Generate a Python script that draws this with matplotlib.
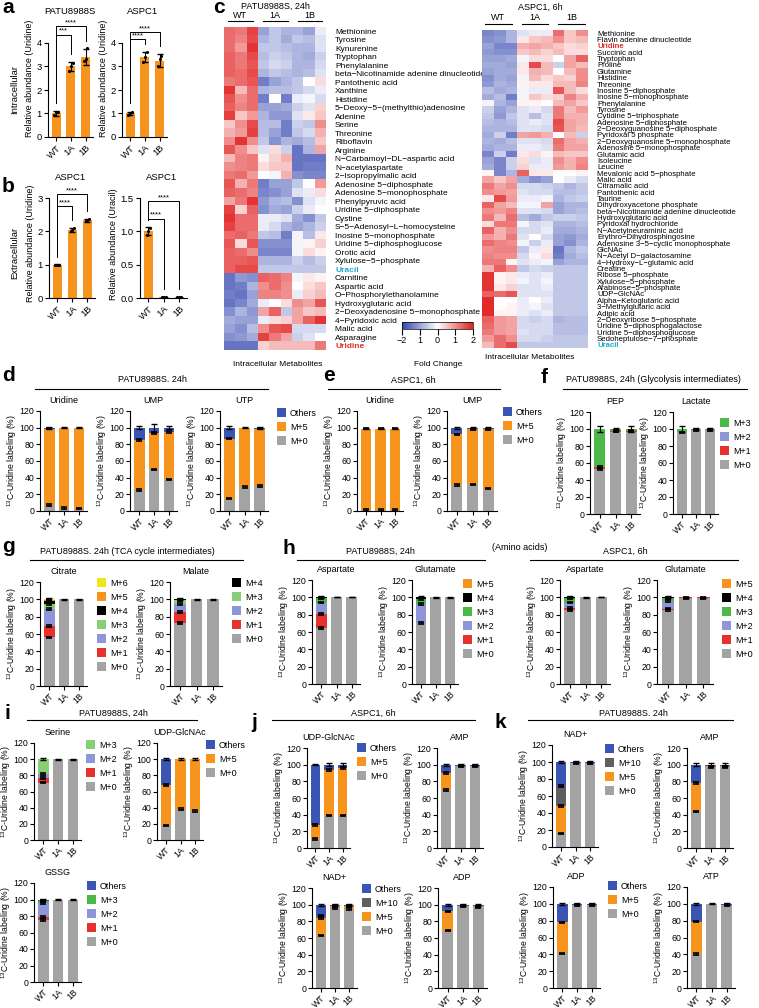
import numpy as np
import matplotlib.pyplot as plt
from matplotlib.colors import LinearSegmentedColormap
from matplotlib.patches import Patch
from matplotlib.lines import Line2D

plt.rcParams['font.family'] = ['Liberation Sans', 'DejaVu Sans']
plt.rcParams['mathtext.fontset'] = 'custom'
plt.rcParams['mathtext.rm'] = 'Liberation Sans'
plt.rcParams['font.size'] = 7
plt.rcParams['axes.linewidth'] = 0.8

GROUPS = ['WT', '1A', '1B']

# ---- a / b : relative abundance ----
a_patu_mean = [1.0, 3.0, 3.4]
a_patu_sd = [0.1, 0.2, 0.35]
a_patu_pts = [[0.92, 1.05, 1.08], [2.8, 3.0, 3.15], [3.25, 3.3, 3.8]]
a_aspc_mean = [1.0, 3.4, 3.25]
a_aspc_sd = [0.08, 0.22, 0.28]
a_aspc_pts = [[0.95, 1.0, 1.05], [3.2, 3.4, 3.6], [3.0, 3.3, 3.45]]
b_uri_mean = [1.0, 2.05, 2.33]
b_uri_sd = [0.01, 0.06, 0.05]
b_uri_pts = [[1.0, 1.0, 1.0], [2.0, 2.05, 2.1], [2.3, 2.33, 2.36]]
b_ura_mean = [1.0, 0.01, 0.01]
b_ura_sd = [0.06, 0.005, 0.005]
b_ura_pts = [[0.95, 1.0, 1.05], [0.01, 0.01, 0.01], [0.01, 0.01, 0.01]]

# ---- c : heatmaps (fold change, WT x3, 1A x3, 1B x3) ----
left_rows = ['Methionine', 'Tyrosine', 'Kynurenine', 'Tryptophan', 'Phenylalanine',
             'beta\u2212Nicotinamide adenine dinucleotide', 'Pantothenic acid', 'Xanthine',
             'Histidine', '5\u2212Deoxy\u22125\u2212(methylthio)adenosine', 'Adenine', 'Serine',
             'Threonine', 'Riboflavin', 'Arginine', 'N\u2212Carbamoyl\u2212DL\u2212aspartic acid',
             'N\u2212acetylaspartate', '2\u2212Isopropylmalic acid', 'Adenosine 5\u2212diphosphate',
             'Adenosine 5\u2212monophosphate', 'Phenylpyruvic acid', 'Uridine 5\u2212diphosphate',
             'Cystine', 'S\u22125\u2212Adenosyl\u2212L\u2212homocysteine', 'Inosine 5\u2212monophosphate',
             'Uridine 5\u2212diphosphoglucose', 'Orotic acid', 'Xylulose\u22125\u2212phosphate', 'Uracil',
             'Carnitine', 'Aspartic acid', 'O\u2212Phosphorylethanolamine', 'Hydroxyglutaric acid',
             '2\u2212Deoxyadenosine 5\u2212monophosphate', '4\u2212Pyridoxic acid', 'Malic acid',
             'Asparagine', 'Uridine']
left_vals = [
    [1.3, 1.2, 1.7, -1.0, -0.6, -0.8, -0.8, -1.0, -0.2],
    [1.3, 1.1, 1.6, -0.8, -0.6, -0.9, -0.6, -0.7, -0.3],
    [1.3, 0.9, 1.8, -0.6, -0.6, -0.7, -0.8, -0.8, -0.3],
    [1.4, 1.2, 1.6, -0.7, -0.5, -0.6, -0.8, -0.9, -0.5],
    [1.4, 1.2, 1.5, -0.6, -0.4, -0.5, -0.8, -0.8, -0.4],
    [1.4, 1.3, 1.6, -0.8, -0.6, -0.7, -0.8, -0.7, -0.3],
    [1.2, 1.3, 1.5, -1.4, -1.0, -0.8, -0.6, 0.0, 0.3],
    [1.8, 0.6, 1.3, -0.8, -0.7, -0.7, -0.6, -0.4, -0.2],
    [1.5, 1.0, 1.3, -1.4, 0.0, -1.4, -0.2, -0.1, -0.4],
    [1.4, 1.1, 1.3, -1.0, -1.0, -0.9, -0.5, -0.3, 0.4],
    [1.7, 0.5, 0.9, -0.8, -1.1, -1.1, -0.3, 0.2, 0.5],
    [0.5, 1.0, 1.6, -0.7, -0.7, -1.4, -0.5, -0.6, 1.0],
    [0.7, 0.9, 1.7, -0.7, -1.0, -1.4, -0.6, -0.4, 0.7],
    [1.0, 1.8, 1.0, -0.6, -1.2, -0.8, -0.9, -0.7, 0.5],
    [1.5, 1.0, 0.5, -0.3, 0.3, -0.5, -1.5, -0.8, 0.8],
    [0.6, 1.1, 1.2, 0.1, 0.4, 0.7, -1.5, -1.5, -1.5],
    [1.0, 1.1, 1.2, 0.3, 0.5, 0.5, -1.5, -1.4, -1.4],
    [1.2, 1.3, 0.9, 0.0, -0.1, 0.7, -1.2, -1.3, -1.3],
    [1.5, 0.7, 1.2, -1.4, -1.0, -1.0, -0.6, 0.0, 0.9],
    [1.4, 1.3, 1.1, -1.3, -1.2, -1.0, -0.3, -0.2, 0.3],
    [0.8, 1.2, 1.8, -1.1, -0.8, -0.7, -1.2, -0.3, -0.1],
    [1.7, 0.4, 1.4, -1.2, -0.9, -1.0, -0.5, -0.2, 0.0],
    [1.8, 1.3, 1.3, -0.2, -0.2, -0.3, -0.9, -1.2, -0.6],
    [1.7, 1.3, 1.3, -0.2, -0.4, -0.8, -1.0, -0.8, -0.5],
    [1.3, 1.4, 1.2, -0.6, -0.7, -1.4, -0.1, -0.7, 0.2],
    [1.5, 0.3, 1.5, -1.2, -1.2, -1.2, -0.1, 0.1, 0.4],
    [1.4, 1.3, 1.0, -1.3, -1.3, -1.3, -0.1, 0.3, 0.1],
    [1.4, 1.4, 1.5, -0.8, -0.8, -0.8, -0.5, -0.7, -0.5],
    [1.4, 1.6, 1.6, -0.6, -0.6, -0.6, -0.6, -0.6, -0.6],
    [-1.5, -1.1, -1.2, 1.4, 1.3, 1.1, -0.1, 0.2, 0.1],
    [-1.5, -1.4, -0.8, 1.0, 1.3, 1.0, 0.0, 0.3, 0.5],
    [-1.4, -1.5, -1.0, 1.1, 1.1, 1.0, -0.2, 0.4, 0.6],
    [-1.5, -1.3, -0.9, -0.2, 0.0, 0.3, 1.0, 0.8, 1.5],
    [-1.2, -0.8, -1.1, 0.8, 1.4, -0.6, 0.8, 0.5, 0.6],
    [-0.9, -1.0, -1.0, -0.2, 0.3, 0.4, 0.8, 1.4, 1.8],
    [-1.0, -1.2, -0.7, 1.0, 1.5, 1.6, -0.4, -0.4, -0.4],
    [-1.2, -1.1, -0.9, 1.7, 1.2, 0.8, -0.5, -0.3, 0.0],
    [-1.5, -1.5, -1.5, 0.4, 0.6, 0.6, 0.6, 0.6, 1.2],
]
right_rows = ['Methionine', 'Flavin adenine dinucleotide', 'Uridine', 'Succinic acid', 'Tryptophan',
              'Proline', 'Glutamine', 'Histidine', 'Threonine', 'Inosine 5\u2212diphosphate',
              'Inosine 5\u2212monophosphate', 'Phenylalanine', 'Tyrosine', 'Cytidine 5\u2212triphosphate',
              'Adenosine 5\u2212diphosphate', '2\u2212Deoxyguanosine 5\u2212diphosphate',
              'Pyridoxal 5 phosphate', '2\u2212Deoxyguanosine 5\u2212monophosphate',
              'Adenosine 5\u2212monophosphate', 'Glutamic acid', 'Isoleucine', 'Leucine',
              'Mevalonic acid 5\u2212phosphate', 'Malic acid', 'Citramalic acid', 'Pantothenic acid',
              'Taurine', 'Dihydroxyacetone phosphate', 'beta\u2212Nicotinamide adenine dinucleotide',
              'Hydroxyglutaric acid', 'Pyridoxal hydrochloride', 'N\u2212Acetylneuraminic acid',
              'Erythro\u2212Dihydrosphingosine', 'Adenosine 3\u22125\u2212cyclic monophosphate', 'GlcNAc',
              'N\u2212Acetyl D\u2212galactosamine', '4\u2212Hydroxy\u2212L\u2212glutamic acid', 'Creatine',
              'Ribose 5\u2212phosphate', 'Xylulose\u22125\u2212phosphate', 'Arabinose\u22125\u2212phosphate',
              'UDP\u2212GlcNAc', 'Alpha\u2212Ketoglutaric acid', '3\u2212Methylglutaric acid', 'Adipic acid',
              '2\u2212Deoxyribose 5\u2212phosphate', 'Uridine 5\u2212diphosphogalactose',
              'Uridine 5\u2212diphosphoglucose', 'Sedoheptulose\u22127\u2212phosphate', 'Uracil']
right_vals = [
    [-1.3, -1.2, -0.8, -0.3, -0.2, -0.2, 1.3, 0.5, 1.0],
    [-1.2, -1.1, -0.8, 0.2, 0.5, 0.6, 1.0, 0.5, 0.6],
    [-1.0, -1.3, -1.3, 0.7, 0.8, 0.7, 0.5, 0.3, 0.4],
    [-1.1, -1.2, -1.2, 0.5, 0.6, 0.4, 0.6, 0.3, 0.3],
    [-1.0, -1.0, -0.9, -0.1, 0.3, 0.3, 0.0, 0.8, 1.4],
    [-0.9, -0.9, -1.0, 0.2, 1.6, 0.6, -0.5, 0.8, 0.6],
    [-1.0, -0.9, -0.9, 0.2, 0.7, 0.6, 0.0, 0.6, 1.0],
    [-1.2, -0.9, -1.0, -0.1, 0.6, 0.3, 0.5, 0.4, 1.0],
    [-1.1, -0.8, -0.9, 0.1, 0.2, 0.2, 0.6, 0.6, 1.1],
    [-0.7, -0.9, -0.8, -0.1, -0.2, -0.2, 1.5, 0.6, 0.3],
    [-0.9, -0.7, -1.4, -0.1, 0.5, 0.3, 0.4, 1.1, 0.7],
    [-0.1, -0.8, -1.0, 0.1, 0.1, 0.0, 0.6, 0.8, 0.5],
    [-0.5, -1.0, -0.8, -0.3, -0.2, -0.4, 1.2, 0.6, 0.9],
    [-0.6, -1.1, -0.6, -0.3, -0.7, -0.3, 1.2, 0.7, 0.7],
    [-0.7, -0.8, -0.7, -0.3, -0.2, -0.3, 1.6, 0.8, 0.7],
    [-0.8, -0.8, -0.8, -0.3, -0.3, -0.4, 1.5, 0.8, 0.6],
    [-0.9, -0.5, -1.4, 0.8, 0.9, 0.7, 0.0, 0.6, -0.5],
    [-0.8, -0.9, -0.7, -0.3, -0.3, -0.4, 1.3, 0.8, 0.7],
    [-0.9, -0.8, -0.8, -0.2, -0.2, -0.3, 1.2, 0.8, 0.8],
    [-1.3, -0.5, -1.4, 0.2, 0.3, 0.1, 0.6, 0.5, 0.5],
    [-1.0, -1.3, -0.5, 0.3, -0.3, -0.2, 1.0, 0.7, 1.0],
    [-0.9, -1.3, -0.5, 0.4, -0.2, -0.2, 0.9, 0.7, 1.1],
    [0.1, -1.3, -0.8, 1.4, 0.2, 0.2, 0.0, 0.0, 0.1],
    [0.8, 0.5, 0.8, -0.9, -1.2, -1.0, 0.0, -0.2, -0.4],
    [1.2, 0.8, 1.0, -0.4, -0.4, -0.5, -0.6, -0.8, -0.6],
    [1.0, 0.9, 0.8, -0.3, -0.4, -0.4, -0.7, -0.7, -0.6],
    [0.2, 1.6, 0.9, -0.2, -0.2, -0.1, -0.8, -0.6, -0.5],
    [1.4, 0.8, 0.6, -0.1, -0.1, 0.8, -1.0, -0.8, -0.8],
    [1.0, 0.9, 1.1, -0.3, -0.3, -0.4, -1.0, -0.8, -0.7],
    [1.2, 0.6, 1.3, -0.7, -0.9, -0.6, -0.5, -0.5, -0.6],
    [0.3, 1.2, 1.2, -0.1, -0.4, -0.3, -0.8, -0.8, -0.7],
    [1.4, 0.7, 1.0, -0.4, -0.4, -0.2, -0.9, -0.9, -0.8],
    [0.9, 0.7, 1.2, -0.3, 0.0, -0.4, -1.0, -1.1, -0.9],
    [1.3, 1.1, 1.0, -0.1, -0.5, -0.2, -1.0, -1.2, -0.8],
    [1.0, 1.1, 1.1, -0.6, -0.2, 0.2, -1.5, -0.8, -0.6],
    [1.1, 1.0, 1.0, -0.4, 0.1, 0.3, -1.4, -0.9, -0.7],
    [1.2, 1.2, 0.1, -0.3, -0.2, -0.1, -1.0, -0.8, -0.8],
    [0.7, 1.4, 1.0, -0.6, -0.4, -0.5, -0.6, -0.6, -0.6],
    [1.8, 0.1, 0.2, -0.2, -0.3, -0.2, -0.6, -0.6, -0.6],
    [1.8, 0.1, 0.2, -0.1, -0.3, -0.1, -0.6, -0.6, -0.6],
    [1.8, 0.2, 0.4, -0.3, -0.3, -0.2, -0.6, -0.6, -0.6],
    [1.4, 1.3, 1.5, -0.3, -0.3, -0.3, -0.6, -0.6, -0.6],
    [1.9, 0.0, 0.0, -0.2, 0.0, -0.2, -0.6, -0.6, -0.6],
    [1.9, 0.0, 0.1, -0.2, -0.1, -0.3, -0.6, -0.6, -0.6],
    [1.9, 0.1, 0.1, -0.2, -0.3, -0.2, -0.6, -0.6, -0.6],
    [1.4, 0.9, 0.8, -0.4, -0.5, -0.4, -0.8, -0.7, -0.7],
    [1.3, 0.9, 0.8, -0.4, -0.4, -0.4, -0.7, -0.7, -0.7],
    [1.2, 0.9, 0.8, -0.3, -0.4, -0.4, -0.7, -0.7, -0.7],
    [0.9, 1.3, 1.0, -0.4, -0.4, -0.5, -0.6, -0.6, -0.6],
    [0.6, 1.3, 1.6, -0.6, -0.6, -0.6, -0.6, -0.6, -0.6],
]

# ---- d-k : 13C-uridine labeling (%) per isotopologue, WT/1A/1B ----
d_uridine = {'M+0': [7, 4, 3], 'M+5': [92, 96, 97], 'Others': [1, 0, 0]}
d_ump = {'M+0': [25, 50, 38], 'M+5': [60, 44, 57], 'Others': [15, 6, 5]}
d_utp = {'M+0': [15, 29, 30], 'M+5': [72, 71, 69], 'Others': [13, 0, 1]}
e_uridine = {'M+0': [1, 1, 1], 'M+5': [98, 98, 98], 'Others': [0, 0, 0]}
e_ump = {'M+0': [31, 32, 27], 'M+5': [61, 66, 71], 'Others': [8, 2, 2]}
f_pep = {'M+0': [53, 97, 97], 'M+1': [2, 1, 1], 'M+2': [0, 0, 0], 'M+3': [45, 2, 2]}
f_lactate = {'M+0': [96, 99, 99], 'M+1': [0.5, 0, 0], 'M+2': [0, 0, 0], 'M+3': [3.5, 1, 1]}
g_citrate = {'M+0': [56, 100, 100], 'M+1': [13, 0, 0], 'M+2': [20, 0, 0], 'M+3': [6, 0, 0],
             'M+4': [3, 0, 0], 'M+5': [1, 0, 0], 'M+6': [1, 0, 0]}
g_malate = {'M+0': [73, 100, 100], 'M+1': [12, 0, 0], 'M+2': [10, 0, 0], 'M+3': [4, 0, 0],
            'M+4': [1, 0, 0]}
h_patu_asp = {'M+0': [65, 100, 100], 'M+1': [16, 0, 0], 'M+2': [13, 0, 0], 'M+3': [5, 0, 0],
              'M+4': [1, 0, 0]}
h_patu_glu = {'M+0': [70, 100, 100], 'M+1': [0, 0, 0], 'M+2': [22, 0, 0], 'M+3': [6, 0, 0],
              'M+4': [2, 0, 0], 'M+5': [0, 0, 0]}
h_aspc_asp = {'M+0': [85, 100, 100], 'M+1': [3, 0, 0], 'M+2': [6, 0, 0], 'M+3': [5, 0, 0],
              'M+4': [1, 0, 0]}
h_aspc_glu = {'M+0': [85, 99, 99], 'M+1': [2, 1, 1], 'M+2': [9, 0, 0], 'M+3': [3, 0, 0],
              'M+4': [1, 0, 0], 'M+5': [0, 0, 0]}
i_serine = {'M+0': [71, 100, 100], 'M+1': [6, 0, 0], 'M+2': [5, 0, 0], 'M+3': [18, 0, 0]}
i_udpglcnac = {'M+0': [18, 38, 36], 'M+5': [50, 62, 64], 'Others': [32, 0, 0]}
i_gssg = {'M+0': [75, 100, 100], 'M+1': [4, 0, 0], 'M+2': [17, 0, 0], 'M+3': [2, 0, 0],
          'Others': [2, 0, 0]}
j_udpglcnac = {'M+0': [11, 39, 39], 'M+5': [17, 55, 57], 'Others': [72, 6, 4]}
j_amp = {'M+0': [70, 98, 98], 'M+5': [20, 1, 1], 'Others': [10, 1, 1]}
j_nad = {'M+0': [63, 96, 95], 'M+5': [21, 2, 3], 'M+10': [3, 1, 1], 'Others': [13, 1, 1]}
j_adp = {'M+0': [69, 98, 97], 'M+5': [23, 1, 1], 'Others': [8, 1, 2]}
k_nad = {'M+0': [16, 99, 99], 'M+5': [32, 0, 0], 'M+10': [24, 0, 0], 'Others': [28, 1, 1]}
k_amp = {'M+0': [44, 97, 97], 'M+5': [34, 1, 1], 'Others': [22, 2, 2]}
k_adp = {'M+0': [41, 99, 99], 'M+5': [37, 0, 0], 'Others': [22, 1, 1]}
k_atp = {'M+0': [40, 100, 99], 'M+5': [39, 0, 0], 'Others': [21, 0, 1]}

ORDER = ['M+0', 'M+1', 'M+2', 'M+3', 'M+4', 'M+5', 'M+6', 'M+10', 'Others']
COLORS = {'M+0': '#a3a3a3', 'M+1': '#e5322d', 'M+2': '#8e96d8', 'M+3': '#4cb848',
          'M+4': '#000000', 'M+5': '#f7941d', 'M+6': '#f2e31b', 'M+10': '#5f5f5f',
          'Others': '#3b55b5'}
LIGHT_GREEN = {'M+3': '#86cf74'}
ORANGE = '#f7941d'

W, H = 759, 1008
fig = plt.figure(figsize=(W / 100, H / 100), dpi=100)


def box(x0, y0, x1, y1):
    return fig.add_axes([x0 / W, 1 - y1 / H, (x1 - x0) / W, (y1 - y0) / H])


def ftext(x, y, s, **kw):
    kw.setdefault('ha', 'center')
    kw.setdefault('va', 'center')
    fig.text(x / W, 1 - y / H, s, **kw)


def fline(x0, x1, y, lw=0.8):
    fig.add_artist(Line2D([x0 / W, x1 / W], [1 - y / H, 1 - y / H], color='k', lw=lw))


def letter(x, y, s):
    # y is the baseline
    ftext(x, y, s, fontsize=15, fontweight='bold', ha='left', va='baseline')


# ---------- a / b ----------
def abundance(px, mean, sd, pts, ylim, top, ticks, ticklabels, ylabel, brackets):
    ax = box(*px)
    x = np.arange(3)
    ax.bar(x, mean, 0.62, color=ORANGE, zorder=1)
    ax.errorbar(x, mean, yerr=sd, fmt='none', ecolor='k', elinewidth=0.8, capsize=2.5, zorder=3)
    for i in range(3):
        ax.scatter(x[i] + np.array([-0.12, 0.0, 0.12]), pts[i], s=5, color='k', zorder=4, lw=0)
    for j, yb, lab in brackets:
        y0 = mean[0] + sd[0] + 0.07 * ylim
        y1 = mean[j] + sd[j] + 0.07 * ylim
        ax.plot([0, 0, j, j], [y0, yb, yb, y1], color='k', lw=0.7, clip_on=False)
        ax.text(j / 2, yb, lab, ha='center', va='bottom', fontsize=5.5)
    ax.set_xlim(-0.55, 2.5)
    ax.set_ylim(0, ylim)
    ax.set_yticks(ticks, ticklabels)
    ax.spines['left'].set_bounds(0, top)
    ax.spines[['top', 'right']].set_visible(False)
    ax.set_xticks(x, GROUPS, rotation=45, ha='right', rotation_mode='anchor')
    ax.tick_params(length=3, width=0.8, labelsize=6.8, pad=1.5)
    ax.set_ylabel(ylabel, fontsize=6.5, labelpad=2)
    return ax


abundance((48, 19.5, 93, 137), a_patu_mean, a_patu_sd, a_patu_pts, 5, 4,
          [0, 1, 2, 3, 4], ['0', '1', '2', '3', '4'], 'Relative abundance (Uridine)',
          [(1, 4.35, '***'), (2, 4.72, '****')])
abundance((122, 19.5, 167, 137), a_aspc_mean, a_aspc_sd, a_aspc_pts, 5, 4,
          [0, 1, 2, 3, 4], ['0', '1', '2', '3', '4'], 'Relative abundance (Uridine)',
          [(1, 4.15, '****'), (2, 4.45, '****')])
abundance((49, 188, 95, 298), b_uri_mean, b_uri_sd, b_uri_pts, 3.3, 3,
          [0, 1, 2, 3], ['0', '1', '2', '3'], 'Relative abundance (Uridine)',
          [(1, 2.76, '****'), (2, 3.12, '****')])
abundance((140, 190, 187, 298), b_ura_mean, b_ura_sd, b_ura_pts, 1.62, 1.5,
          [0, 0.5, 1.0, 1.5], ['0.0', '0.5', '1.0', '1.5'], 'Relative abundance (Uracil)',
          [(1, 1.19, '****'), (2, 1.45, '****')])
ftext(70, 11, 'PATU8988S', fontsize=6.8)
ftext(143, 11, 'ASPC1', fontsize=6.8)
ftext(71, 178, 'ASPC1', fontsize=6.8)
ftext(162, 178, 'ASPC1', fontsize=6.8)
ftext(15, 90, 'Intracellular', fontsize=6.8, rotation=90)
ftext(15, 253, 'Extracellular', fontsize=6.8, rotation=90)
letter(2, 13, 'a')
letter(2, 192, 'b')

# ---------- c : heatmaps ----------
cmap = LinearSegmentedColormap.from_list('bwr2', ['#3446b0', '#ffffff', '#e0201f'])


def heatmap(px, rows, vals, fs, pad):
    ax = box(*px)
    im = ax.imshow(np.array(vals), cmap=cmap, vmin=-2, vmax=2, aspect='auto',
                   interpolation='nearest')
    ax.set_xticks([])
    ax.yaxis.tick_right()
    ax.set_yticks(range(len(rows)), rows, fontsize=fs)
    ax.tick_params(axis='y', length=0, pad=pad)
    for s in ax.spines.values():
        s.set_visible(False)
    for t in ax.get_yticklabels():
        if t.get_text() == 'Uracil':
            t.set_color('#1ea6cf')
            t.set_fontweight('bold')
        elif t.get_text() == 'Uridine':
            t.set_color('#d9302b')
            t.set_fontweight('bold')
    return im


im = heatmap((224, 27, 326, 350), left_rows, left_vals, 6.0, 6.5)
heatmap((482, 30, 588, 348), right_rows, right_vals, 5.6, 6.5)

ftext(275, 6, 'PATU8988S, 24h', fontsize=6.5)
for cx, lab, x0, x1 in [(240, 'WT', 228, 253), (275, '1A', 263, 288), (310, '1B', 298, 322)]:
    ftext(cx, 15, lab, fontsize=6.5)
    fline(x0, x1, 21)
ftext(540, 7, 'ASPC1, 6h', fontsize=6.5)
for cx, lab, x0, x1 in [(498, 'WT', 485, 512), (535, '1A', 522, 548), (572, '1B', 558, 585)]:
    ftext(cx, 17, lab, fontsize=6.5)
    fline(x0, x1, 24)
ftext(278, 364, 'Intracellular Metabolites', fontsize=6)
ftext(530, 357, 'Intracellular Metabolites', fontsize=6)
ftext(438, 364, 'Fold Change', fontsize=6)

cax = box(402, 322, 473, 329)
cb = fig.colorbar(im, cax=cax, orientation='horizontal')
cb.set_ticks([-2, -1, 0, 1, 2], labels=['\u22122', '1', '0', '1', '2'])
cb.ax.tick_params(length=4, width=0.8, labelsize=6.5, pad=1)
cb.outline.set_linewidth(0.5)
letter(213, 13, 'c')


# ---------- d-k : stacked labeling bars ----------
def stacked(px, title, data, err, legend=None, colors=None, leg_xy=None):
    col = dict(COLORS)
    if colors:
        col.update(colors)
    ax = box(*px)
    x = np.arange(3)
    keys = [k for k in ORDER if k in data]
    bottom = np.zeros(3)
    for n, k in enumerate(keys):
        v = np.array(data[k], float)
        ax.bar(x, v, 0.72, bottom=bottom, color=col[k], lw=0, zorder=1)
        bottom = bottom + v
        if n < len(keys) - 1:
            m = (v > 0.8) & (100 - bottom > 0.8)
            if m.any():
                ax.errorbar(x[m], bottom[m], yerr=1.0, fmt='none', ecolor='k',
                            elinewidth=0.8, capsize=2.5, capthick=1.2, zorder=3)
    ax.errorbar(x, bottom, yerr=err, fmt='none', ecolor='k', elinewidth=0.8,
                capsize=2.5, capthick=1.0, zorder=3)
    ax.set_xlim(-0.62, 2.55)
    ax.set_ylim(0, 120)
    ax.set_yticks(range(0, 121, 20))
    ax.set_xticks(x, GROUPS, rotation=45, ha='right', rotation_mode='anchor')
    ax.spines[['top', 'right']].set_visible(False)
    ax.tick_params(length=3, width=0.8, labelsize=6.3, pad=1.2)
    ax.set_ylabel(r'$^{\mathrm{13}}$C-Uridine labeling (%)', fontsize=6.2, labelpad=0.3)
    ax.set_title(title, fontsize=6.5, pad=6)
    if legend:
        handles = [Patch(facecolor=col[k], edgecolor='none') for k in legend]
        ax.legend(handles, legend, loc='upper left',
                  bbox_to_anchor=(leg_xy[0] / W, 1 - leg_xy[1] / H),
                  bbox_transform=fig.transFigure, frameon=False, fontsize=6.5,
                  handlelength=0.95, handleheight=1.15, handletextpad=0.5,
                  labelspacing=0.5, borderpad=0, borderaxespad=0)
    return ax


L3 = ['Others', 'M+5', 'M+0']
# d
letter(2, 381, 'd')
ftext(152, 380, 'PATU8988S. 24h', fontsize=6.5)
fline(35, 268, 389)
stacked((40, 411, 87, 511), 'Uridine', d_uridine, [1, 0.5, 0.5])
stacked((130, 411, 177, 511), 'UMP', d_ump, [2, 5, 2])
stacked((220, 411, 268, 511), 'UTP', d_utp, [1.5, 0.5, 1], L3, leg_xy=(277, 408))
# e
letter(323, 381, 'e')
ftext(413, 380, 'ASPC1, 6h', fontsize=6.5)
fline(328, 500, 389)
stacked((357, 411, 403, 511), 'Uridine', e_uridine, [0.5, 0.5, 0.5])
stacked((447, 411, 497, 511), 'UMP', e_ump, [1, 1, 1], L3, leg_xy=(503, 407))
# f
letter(541, 383, 'f')
ftext(653, 380, 'PATU8988S, 24h (Glycolysis intermediates)', fontsize=6.5)
fline(563, 747, 389)
stacked((590, 412, 640, 514), 'PEP', f_pep, [3, 1.5, 3])
stacked((673, 412, 718, 514), 'Lactate', f_lactate, [3, 1, 1],
        ['M+3', 'M+2', 'M+1', 'M+0'], leg_xy=(720, 418))
# g
letter(2, 552, 'g')
ftext(127, 551, 'PATU8988S. 24h (TCA cycle intermediates)', fontsize=6.5)
fline(30, 243, 560)
stacked((40, 582, 87, 686), 'Citrate', g_citrate, [2, 0.5, 0.5],
        ['M+6', 'M+5', 'M+4', 'M+3', 'M+2', 'M+1', 'M+0'], colors=LIGHT_GREEN, leg_xy=(97, 578))
stacked((170, 582, 222, 686), 'Malate', g_malate, [1, 0.5, 0.5],
        ['M+4', 'M+3', 'M+2', 'M+1', 'M+0'], colors=LIGHT_GREEN, leg_xy=(232, 578))
# h
letter(282, 554, 'h')
ftext(380, 551, 'PATU8988S, 24h', fontsize=6.5)
fline(297, 485, 560)
ftext(520, 548, '(Amino acids)', fontsize=6.5)
ftext(625, 551, 'ASPC1, 6h', fontsize=6.5)
fline(530, 738, 560)
L6 = ['M+5', 'M+4', 'M+3', 'M+2', 'M+1', 'M+0']
stacked((312, 580, 360, 684), 'Aspartate', h_patu_asp, [1, 0, 0])
stacked((412, 580, 458, 684), 'Glutamate', h_patu_glu, [1, 0.5, 0.5], L6, leg_xy=(463, 579))
stacked((560, 580, 610, 684), 'Aspartate', h_aspc_asp, [1, 0.5, 0])
stacked((657, 580, 713, 684), 'Glutamate', h_aspc_glu, [1, 0.5, 0.5], L6, leg_xy=(722, 579))
# i
letter(4, 719, 'i')
ftext(113, 713, 'PATU8988S, 24h', fontsize=6.5)
fline(27, 197, 720)
stacked((34, 743, 81, 840), 'Serine', i_serine, [1, 0.5, 0.5],
        ['M+3', 'M+2', 'M+1', 'M+0'], colors=LIGHT_GREEN, leg_xy=(86, 740))
stacked((157, 743, 203, 840), 'UDP-GlcNAc', i_udpglcnac, [1, 1, 1.5], L3, leg_xy=(206, 740))
stacked((34, 883, 81, 982), 'GSSG', i_gssg, [1, 0.5, 0.5],
        ['Others', 'M+3', 'M+2', 'M+1', 'M+0'], leg_xy=(87, 881))
# j
letter(251, 728, 'j')
ftext(373, 713, 'ASPC1, 6h', fontsize=6.5)
fline(272, 475, 720)
L4 = ['Others', 'M+10', 'M+5', 'M+0']
stacked((307, 748, 350, 848), 'UDP-GlcNAc', j_udpglcnac, [0.5, 1.5, 1.5], L3, leg_xy=(357, 743))
stacked((437, 748, 483, 848), 'AMP', j_amp, [1, 1, 1])
stacked((312, 888, 357, 988), 'NAD+', j_nad, [1, 1, 1], L4, leg_xy=(362, 884))
stacked((438, 888, 487, 988), 'ADP', j_adp, [1, 1, 1])
# k
letter(495, 728, 'k')
ftext(633, 713, 'PATU8988S. 24h', fontsize=6.5)
fline(528, 733, 720)
stacked((552, 745, 598, 847), 'NAD+', k_nad, [1, 1, 1], L4, leg_xy=(605, 744))
stacked((687, 748, 733, 848), 'AMP', k_amp, [2, 2, 2])
stacked((553, 887, 600, 988), 'ADP', k_adp, [1, 1, 1.5], L3, leg_xy=(608, 881))
stacked((687, 887, 735, 988), 'ATP', k_atp, [1, 0.5, 1])

fig.savefig('out.png', dpi=100)
